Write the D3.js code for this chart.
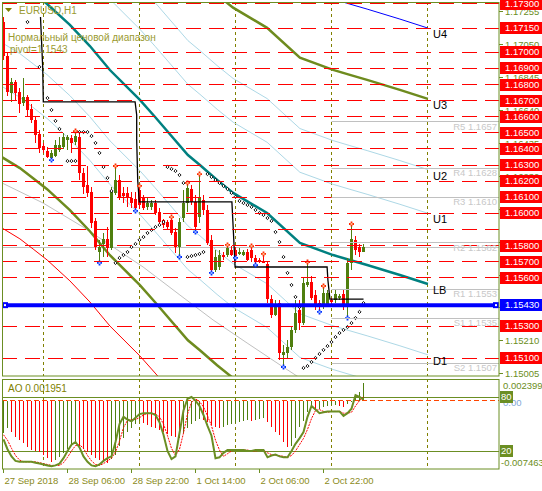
<!DOCTYPE html>
<html>
<head>
<meta charset="utf-8">
<script src="https://cdn.jsdelivr.net/npm/d3@7"></script>
<style>
  body { margin: 0; background: #fff; }
  svg { display: block; }
  text { font-family: "Liberation Sans", Arial, sans-serif; }
</style>
</head>
<body>
<div id="chart"></div>
<script>
// EURUSD H1, bar 0 = 27 Sep 2018 14:00, [open, high, low, close]
const candles = [
  [1.17188,1.17219,1.16952,1.16977],[1.16977,1.17002,1.16729,1.16754],[1.16747,1.16841,1.16692,1.16816],
  [1.16816,1.16828,1.16698,1.16747],[1.16754,1.16779,1.16623,1.16679],[1.16685,1.16841,1.16667,1.16723],
  [1.16723,1.16735,1.16598,1.16642],[1.16648,1.16679,1.16561,1.16580],[1.16580,1.16598,1.16437,1.16487],
  [1.16493,1.16518,1.16375,1.16406],[1.16418,1.16437,1.16375,1.16394],[1.16387,1.16412,1.16344,1.16350],
  [1.16344,1.16394,1.16331,1.16375],[1.16356,1.16456,1.16350,1.16425],[1.16394,1.16474,1.16381,1.16425],
  [1.16412,1.16499,1.16400,1.16474],[1.16456,1.16487,1.16394,1.16474],[1.16468,1.16487,1.16375,1.16437],
  [1.16443,1.16511,1.16425,1.16480],[1.16474,1.16499,1.16207,1.16251],[1.16251,1.16282,1.16120,1.16164],
  [1.16176,1.16294,1.16102,1.16127],[1.16133,1.16164,1.15909,1.15940],[1.15953,1.15971,1.15773,1.15791],
  [1.15760,1.15835,1.15692,1.15791],[1.15810,1.15878,1.15729,1.15841],[1.15841,1.15915,1.15729,1.15785],
  [1.15785,1.16164,1.15773,1.16133],[1.16127,1.16294,1.16114,1.16207],[1.16207,1.16238,1.16083,1.16102],
  [1.16127,1.16164,1.16064,1.16108],[1.16127,1.16164,1.16040,1.16095],[1.16095,1.16133,1.16033,1.16064],
  [1.16089,1.16133,1.16015,1.16033],[1.16145,1.16170,1.16027,1.16052],[1.16095,1.16114,1.16021,1.16033],
  [1.16040,1.16102,1.16021,1.16064],[1.16040,1.16083,1.16021,1.16064],[1.16064,1.16083,1.15990,1.16002],
  [1.16009,1.16033,1.15928,1.15946],[1.15959,1.15965,1.15909,1.15928],[1.15946,1.15959,1.15897,1.15915],
  [1.15959,1.15977,1.15866,1.15878],[1.15884,1.15909,1.15754,1.15791],[1.15791,1.15971,1.15729,1.15946],
  [1.15971,1.16145,1.15946,1.16064],[1.16064,1.16189,1.16009,1.16158],[1.16151,1.16176,1.16052,1.16071],
  [1.16071,1.16114,1.15884,1.15915],[1.15977,1.16244,1.15940,1.16095],[1.16083,1.16114,1.15990,1.16021],
  [1.16021,1.16052,1.15804,1.15816],[1.15835,1.15866,1.15630,1.15648],[1.15648,1.15773,1.15636,1.15729],
  [1.15667,1.15773,1.15648,1.15741],[1.15741,1.15760,1.15710,1.15729],[1.15741,1.15804,1.15729,1.15785],
  [1.15773,1.15797,1.15735,1.15741],[1.15773,1.15791,1.15723,1.15735],[1.15748,1.15785,1.15741,1.15760],
  [1.15741,1.15773,1.15735,1.15760],[1.15760,1.15779,1.15704,1.15710],[1.15773,1.15797,1.15698,1.15723],
  [1.15723,1.15741,1.15679,1.15698],[1.15710,1.15723,1.15692,1.15698],[1.15698,1.15748,1.15692,1.15693],
  [1.15686,1.15698,1.15443,1.15468],[1.15468,1.15493,1.15350,1.15369],[1.15369,1.15462,1.15363,1.15431],
  [1.15443,1.15462,1.15089,1.15133],[1.15120,1.15183,1.15046,1.15139],[1.15133,1.15214,1.15102,1.15170],
  [1.15170,1.15294,1.15152,1.15276],[1.15276,1.15462,1.15257,1.15381],[1.15400,1.15462,1.15276,1.15319],
  [1.15319,1.15599,1.15307,1.15568],[1.15555,1.15698,1.15543,1.15574],[1.15574,1.15611,1.15462,1.15474],
  [1.15493,1.15524,1.15400,1.15419],[1.15443,1.15462,1.15388,1.15419],[1.15419,1.15549,1.15406,1.15506],
  [1.15431,1.15524,1.15419,1.15506],[1.15462,1.15474,1.15431,1.15450],[1.15462,1.15524,1.15443,1.15499],
  [1.15474,1.15499,1.15462,1.15487],[1.15499,1.15524,1.15400,1.15419],[1.15419,1.15723,1.15350,1.15692],
  [1.15692,1.15934,1.15648,1.15841],[1.15835,1.15859,1.15741,1.15773],[1.15791,1.15810,1.15729,1.15760],
  [1.15760,1.15810,1.15760,1.15791]
];

// parabolic SAR dots, null where hidden
const sar = [
  null,null,null,null,null,null,1.17188,null,null,1.16909,
  null,1.16716,1.16642,1.16574,1.16524,null,1.16325,1.16325,1.16325,1.16505,
  1.16505,1.16505,1.16480,1.16437,1.16375,1.16288,1.16220,1.16139,1.15692,1.15723,
  1.15741,1.15760,1.15791,1.15810,1.15835,1.15853,1.15878,1.15897,1.15915,1.15928,
  1.15946,1.16288,1.16276,1.16263,1.16238,1.16189,1.15729,1.15735,1.15741,1.15748,
  1.15760,1.16244,1.16226,1.16207,1.16189,1.16170,1.16151,1.16127,1.16102,1.16077,
  1.16064,1.16052,1.16040,1.16021,1.16002,1.15990,1.15971,1.15953,1.15884,1.15822,
  1.15729,1.15630,1.15555,1.15481,1.15419,1.15040,1.15052,1.15077,1.15102,1.15127,
  1.15152,1.15176,1.15201,1.15232,1.15257,1.15276,1.15294,1.15319,1.15350,1.15388,
  1.15443
];

const fractalUp = [18, 28, 34, 42, 46, 49, 56, 62, 65, 76, 80, 87];
const fractalDown = [12, 24, 33, 44, 48, 52, 58, 63, 70, 79, 86];

const stochMain = [
  33,22,14,9,8,8,8,8,7,6, 5,4,3,4,6,12,20,27,30,24,
  14,8,4,3,5,9,12,14,30,50, 58,55,53,57,61,62,62,62,60,52,
  38,20,11,14,40,65,78,80,76,70, 60,48,37,12,13,18,21,21,21,21,
  21,20,20,21,21,21,13,15,16,14, 13,13,20,28,34,41,58,70,66,62,
  63,64,64,64,64,59,62,67,82,80, 77
];
const stochSignal = [
  38,32,23,15,10,8,8,8,8,7, 6,5,4,4,4,7,13,20,26,27,
  23,15,9,5,4,6,9,12,19,31, 46,54,55,55,57,60,62,62,61,58,
  50,37,23,15,22,40,61,74,78,75, 69,59,48,32,21,14,17,20,21,21,
  21,21,20,20,21,21,18,16,15,15, 14,13,15,20,27,34,44,56,65,66,
  64,63,64,64,64,62,62,63,70,76, 80
];
const aoValues = [
  -0.00352,-0.00297,-0.00341,-0.00396,-0.00428,-0.00461,-0.00505,-0.00538,-0.00549,-0.00560,
  -0.00593,-0.00626,-0.00670,-0.00648,-0.00615,-0.00571,-0.00527,-0.00494,-0.00472,-0.00494,
  -0.00527,-0.00560,-0.00593,-0.00626,-0.00648,-0.00659,-0.00681,-0.00637,-0.00593,-0.00494,
  -0.00407,-0.00341,-0.00297,-0.00253,-0.00220,-0.00242,-0.00264,-0.00286,-0.00297,-0.00319,
  -0.00341,-0.00363,-0.00385,-0.00396,-0.00407,-0.00352,-0.00297,-0.00253,-0.00220,-0.00198,
  -0.00209,-0.00231,-0.00264,-0.00286,-0.00297,-0.00286,-0.00264,-0.00253,-0.00242,-0.00231,
  -0.00220,-0.00209,-0.00220,-0.00209,-0.00198,-0.00187,-0.00231,-0.00286,-0.00341,-0.00374,
  -0.00450,-0.00505,-0.00494,-0.00407,-0.00286,-0.00220,-0.00122,-0.00078,-0.00100,-0.00089,
  -0.00067,-0.00056,-0.00045,-0.00040,-0.00056,-0.00067,-0.00034,-0.00012,0.00043,0.00098,
  0.001951
];
const aoMax = 0.002399, aoMin = -0.007463;

// horizontal levels (red dashed); one has no tag on the axis
const levelPrices = [1.1730,1.1715,1.1700,1.1690,1.1680,1.1670,1.1660,1.1650,1.1640,1.1630,
  1.1620,1.1610,1.1600,1.1590,1.1580,1.1570,1.1560,1.1530,1.1510];
const untaggedLevels = [1.1590];
const pivotPrice = 1.1543;
const pivotNames = ["R5","R4","R3","R2","R1","S1","S2"];
const pivotLevels = [1.1657,1.1628,1.1610,1.1582,1.1553,1.1535,1.1507];
const axisTicks = ["1.17255","1.17050","1.16845","1.16640","1.16435","1.16230","1.16025",
  "1.15820","1.15615","1.15415","1.15210","1.15005"];

// channel: centre line and fibo multiples of its width
const channelMid = [[-0.4,1.17499],[4.1,1.17431],[7.4,1.17368],[10.9,1.17300],[16.6,1.17170],
  [21.6,1.17039],[26.6,1.16890],[34.1,1.16704],[37.9,1.16598],[46.1,1.16362],[49.1,1.16300],
  [53.4,1.16207],[57.4,1.16127],[65.9,1.16002],[74.1,1.15816],[82.4,1.15741],[86.6,1.15710],
  [90.9,1.15679],[99.1,1.15617],[106.1,1.15561]];
const channelWidth = 0.0115;
const channelNames = ["U4","U3","U2","U1","LB","D1","D2","D3","D4"];
const channelK = [1.382, 1, 0.618, 0.382, 0, -0.382, -0.618, -1, -1.382];
const grayLine = [[-0.4,1.16189],[9.9,1.16064],[19.9,1.15915],[27.4,1.15791],[34.9,1.15667],
  [44.1,1.15493],[52.4,1.15338],[60.9,1.15195],[69.9,1.15046],[74.1,1.14978]];
const stepLine = [[9.25,1.17219],[9.8,1.16909],[9.95,1.16692],[32.9,1.16692],[33.3,1.16611],
  [33.3,1.16456],[33.55,1.16207],[33.95,1.16071],[57.1,1.16071],[57.45,1.15897],[57.9,1.15667],
  [80.9,1.15667],[81.1,1.15586],[81.6,1.15468],[90,1.15468]];

const daySeparators = [10, 34, 58, 82, 106];
const dateIndex = [0, 16, 32, 48, 64, 80];
const dateLabels = ["27 Sep 2018","28 Sep 06:00","28 Sep 22:00","1 Oct 14:00","2 Oct 06:00","2 Oct 22:00"];

const OLIVE = "#6b8e23", BULL = "#4f7f0f", BEAR = "#ff0000";

const svg = d3.select("#chart").append("svg")
  .attr("width", 542).attr("height", 491)
  .style("background", "#fff");

const x = d3.scaleLinear().domain([-0.375, 123.875]).range([2, 499]);
const y = d3.scaleLinear().domain([1.149901, 1.173061]).range([376, 3]);
const yAo = d3.scaleLinear().domain([aoMin, aoMax]).range([469, 379]);
const yStoch = d3.scaleLinear().domain([0, 100]).range([469, 379]);
const crisp = v => Math.round(v - 0.5) + 0.5;

const defs = svg.append("defs");
defs.append("clipPath").attr("id", "mainClip").append("rect")
  .attr("x", 2).attr("y", 2).attr("width", 497).attr("height", 374);
defs.append("clipPath").attr("id", "aoClip").append("rect")
  .attr("x", 2).attr("y", 379).attr("width", 497).attr("height", 90);

const main = svg.append("g").attr("clip-path", "url(#mainClip)");
const sub = svg.append("g").attr("clip-path", "url(#aoClip)");

// period separators
[[main, 2, 376], [sub, 379, 469]].forEach(([g, y0, y1]) => {
  g.selectAll(null).data(daySeparators).join("line")
    .attr("x1", d => x(d)).attr("x2", d => x(d))
    .attr("y1", y0).attr("y2", y1)
    .attr("stroke", "#808000").attr("stroke-dasharray", "3,3");
});

// bid line
const bid = candles[candles.length - 1][3];
main.append("line")
  .attr("x1", 2).attr("x2", 499)
  .attr("y1", crisp(y(bid))).attr("y2", crisp(y(bid)))
  .attr("stroke", "#c0c0c0");

// channel
const line = d3.line().x(d => x(d[0])).y(d => y(d[1]));
const chStyle = {
  U4: ["#0000ff", 1], U3: ["#6e8b1e", 2.5], U2: ["#add8e6", 1], U1: ["#add8e6", 1], LB: ["#008080", 2.5],
  D1: ["#add8e6", 1], D2: ["#add8e6", 1], D3: ["#6e8b1e", 2.5], D4: ["#ff0000", 1]
};
main.append("path").datum(grayLine).attr("d", line)
  .attr("fill", "none").attr("stroke", "#c0c0c0");
channelNames.forEach((name, k) => {
  const pts = channelMid.map(d => [d[0], d[1] + channelK[k] * channelWidth]);
  main.append("path").datum(pts).attr("d", line)
    .attr("fill", "none").attr("stroke", chStyle[name][0]).attr("stroke-width", chStyle[name][1]);
});

// candles
const cg = main.append("g").attr("shape-rendering", "crispEdges");
cg.selectAll("line").data(candles).join("line")
  .attr("x1", (d, i) => x(i)).attr("x2", (d, i) => x(i))
  .attr("y1", d => y(d[1])).attr("y2", d => y(d[2]))
  .attr("stroke", d => d[3] >= d[0] ? BULL : BEAR);
cg.selectAll("rect").data(candles).join("rect")
  .attr("x", (d, i) => x(i) - 1.5).attr("width", 3)
  .attr("y", d => y(Math.max(d[0], d[3])))
  .attr("height", d => Math.max(1, Math.abs(y(d[0]) - y(d[3]))))
  .attr("fill", d => d[3] >= d[0] ? BULL : BEAR);

// step line
main.append("path").datum(stepLine).attr("d", line)
  .attr("fill", "none").attr("stroke", "#000").attr("stroke-width", 1.3);

// SAR
main.selectAll(".sar").data(sar.map((v, i) => [i, v]).filter(d => d[1] !== null)).join("path")
  .attr("class", "sar")
  .attr("d", d => `M${x(d[0])},${y(d[1]) - 1.6}l1.6,1.6l-1.6,1.6l-1.6,-1.6z`)
  .attr("fill", "#fff").attr("stroke", "#000").attr("stroke-width", 0.9);

// fractals
function cross(g, idx, val, c1, c2) {
  g.selectAll(null).data(idx).join("path")
    .attr("d", i => `M${x(i) - 2.5},${y(val(i))}h5M${x(i)},${y(val(i)) - 2.5}v5`)
    .attr("stroke", c1).attr("stroke-width", 1.8);
  g.selectAll(null).data(idx).join("rect")
    .attr("x", i => x(i) - 1).attr("y", i => y(val(i)) - 1).attr("width", 2).attr("height", 2)
    .attr("fill", c2);
}
cross(main, fractalUp, i => candles[i][1], "#ff2a00", "#ffb080");
cross(main, fractalDown, i => candles[i][2], "#0030ff", "#90b0ff");

// red levels
main.selectAll(".lvl").data(levelPrices).join("line")
  .attr("class", "lvl")
  .attr("x1", 2).attr("x2", 499)
  .attr("y1", d => crisp(y(d))).attr("y2", d => crisp(y(d)))
  .attr("stroke", "#ff0000").attr("stroke-dasharray", "15,8");

// daily pivots
const pivotStart = x(daySeparators[3]);
main.selectAll(".piv").data(pivotLevels).join("line")
  .attr("class", "piv")
  .attr("x1", pivotStart).attr("x2", 499)
  .attr("y1", d => crisp(y(d))).attr("y2", d => crisp(y(d)))
  .attr("stroke", "#c0c0c0");
main.selectAll(".pivt").data(pivotLevels).join("text")
  .attr("class", "pivt")
  .attr("x", 497).attr("y", d => y(d) + 1)
  .attr("text-anchor", "end").attr("dominant-baseline", "hanging")
  .attr("font-size", 9.5).attr("fill", "#c8c8c8")
  .text((d, i) => `${pivotNames[i]} ${d.toFixed(4)}`);

// pivot line (blue)
main.append("line")
  .attr("x1", 2).attr("x2", 499).attr("y1", y(pivotPrice)).attr("y2", y(pivotPrice))
  .attr("stroke", "#0000ff").attr("stroke-width", 4);
[5, 496].forEach(px => {
  main.append("rect").attr("x", px - 3).attr("y", y(pivotPrice) - 3).attr("width", 6).attr("height", 6)
    .attr("fill", "#0000ff");
  main.append("rect").attr("x", px - 1).attr("y", y(pivotPrice) - 1).attr("width", 2).attr("height", 2)
    .attr("fill", "#fff");
});

// channel labels at the right end of each line
const lastMid = channelMid[channelMid.length - 1];
channelNames.forEach((name, k) => {
  const py = y(lastMid[1] + channelK[k] * channelWidth);
  if (py > 2 && py < 370) {
    main.append("text").attr("x", 433).attr("y", py + 10)
      .attr("font-size", 11).attr("fill", "#000").text(name);
  }
});

// titles
main.append("path").attr("d", "M5,8h7l-3.5,4z").attr("fill", "#808000");
main.append("text").attr("x", 19).attr("y", 14).attr("font-size", 10).attr("fill", "#9a9a30").text("EURUSD,H1");
main.append("text").attr("x", 8).attr("y", 41).attr("font-size", 10).attr("fill", "#9a9a30").text("Нормальный ценовой диапазон");
main.append("text").attr("x", 10).attr("y", 53).attr("font-size", 10).attr("fill", "#9a9a30").text("pivot=" + pivotPrice.toFixed(4));

// AO window
[80, 20].forEach(v => {
  sub.append("line").attr("x1", 2).attr("x2", 499)
    .attr("y1", crisp(yStoch(v))).attr("y2", crisp(yStoch(v))).attr("stroke", OLIVE);
});
sub.append("g").attr("shape-rendering", "crispEdges")
  .selectAll("line").data(aoValues).join("line")
  .attr("x1", (d, i) => x(i)).attr("x2", (d, i) => x(i))
  .attr("y1", yAo(0)).attr("y2", d => yAo(d))
  .attr("stroke", (d, i) => i === 0 || d > aoValues[i - 1] ? BULL : BEAR);
sub.append("line").attr("x1", 2).attr("x2", 499).attr("y1", crisp(yAo(0))).attr("y2", crisp(yAo(0)))
  .attr("stroke", "#ff4500").attr("stroke-dasharray", "5,3");
const sline = d3.line().x((d, i) => x(i)).y(d => yStoch(d));
sub.append("path").datum(stochSignal).attr("d", sline)
  .attr("fill", "none").attr("stroke", "#ff0000").attr("stroke-dasharray", "2,1");
sub.append("path").datum(stochMain).attr("d", sline)
  .attr("fill", "none").attr("stroke", OLIVE).attr("stroke-width", 2);
sub.append("text").attr("x", 8).attr("y", 392).attr("font-size", 10).attr("fill", "#808000")
  .text("AO " + aoValues[aoValues.length - 1].toFixed(6));

// frames
svg.append("rect").attr("x", 2.5).attr("y", 2.5).attr("width", 496.5).attr("height", 373.5)
  .attr("fill", "none").attr("stroke", OLIVE);
svg.append("rect").attr("x", 2.5).attr("y", 379.5).attr("width", 496.5).attr("height", 89.5)
  .attr("fill", "none").attr("stroke", OLIVE);

// price axis
const axis = svg.append("g");
axisTicks.forEach(t => {
  const py = y(+t);
  axis.append("line").attr("x1", 499).attr("x2", 503).attr("y1", crisp(py)).attr("y2", crisp(py)).attr("stroke", OLIVE);
  axis.append("text").attr("x", 505).attr("y", py).attr("dy", "0.35em")
    .attr("font-size", 9.5).attr("fill", OLIVE).text(t);
});
levelPrices.filter(p => !untaggedLevels.includes(p)).concat([pivotPrice]).forEach(p => {
  const py = Math.round(y(p));
  const col = p === pivotPrice ? "#0000ff" : "#ff0000";
  axis.append("rect").attr("x", 500).attr("y", py - 6).attr("width", 42).attr("height", 12).attr("fill", col);
  axis.append("text").attr("x", 505).attr("y", py).attr("dy", "0.35em")
    .attr("font-size", 9.5).attr("fill", "#fff").text(p.toFixed(5));
});

// AO axis
axis.append("text").attr("x", 503).attr("y", 386).attr("dy", "0.35em").attr("font-size", 9.5).attr("fill", OLIVE).text(aoMax.toFixed(6));
axis.append("text").attr("x", 503).attr("y", yAo(0) + 2).attr("dy", "0.35em").attr("font-size", 9.5).attr("fill", "#7fa8d8").text("0.00");
[80, 20].forEach(v => {
  const py = Math.round(yStoch(v));
  axis.append("rect").attr("x", 500).attr("y", py - 6).attr("width", 13).attr("height", 12).attr("fill", OLIVE);
  axis.append("text").attr("x", 501).attr("y", py).attr("dy", "0.35em").attr("font-size", 9.5).attr("fill", "#fff").text(v);
});
axis.append("text").attr("x", 501).attr("y", 463).attr("dy", "0.35em").attr("font-size", 9.5).attr("fill", OLIVE).text(aoMin.toFixed(6));

// time axis
dateIndex.forEach((di, k) => {
  const px = crisp(x(di));
  axis.append("line").attr("x1", px).attr("x2", px).attr("y1", 469).attr("y2", 473).attr("stroke", OLIVE);
  axis.append("text").attr("x", px + 1).attr("y", 484).attr("font-size", 9.5).attr("fill", "#8b8b1b").text(dateLabels[k]);
});
</script>
</body>
</html>
